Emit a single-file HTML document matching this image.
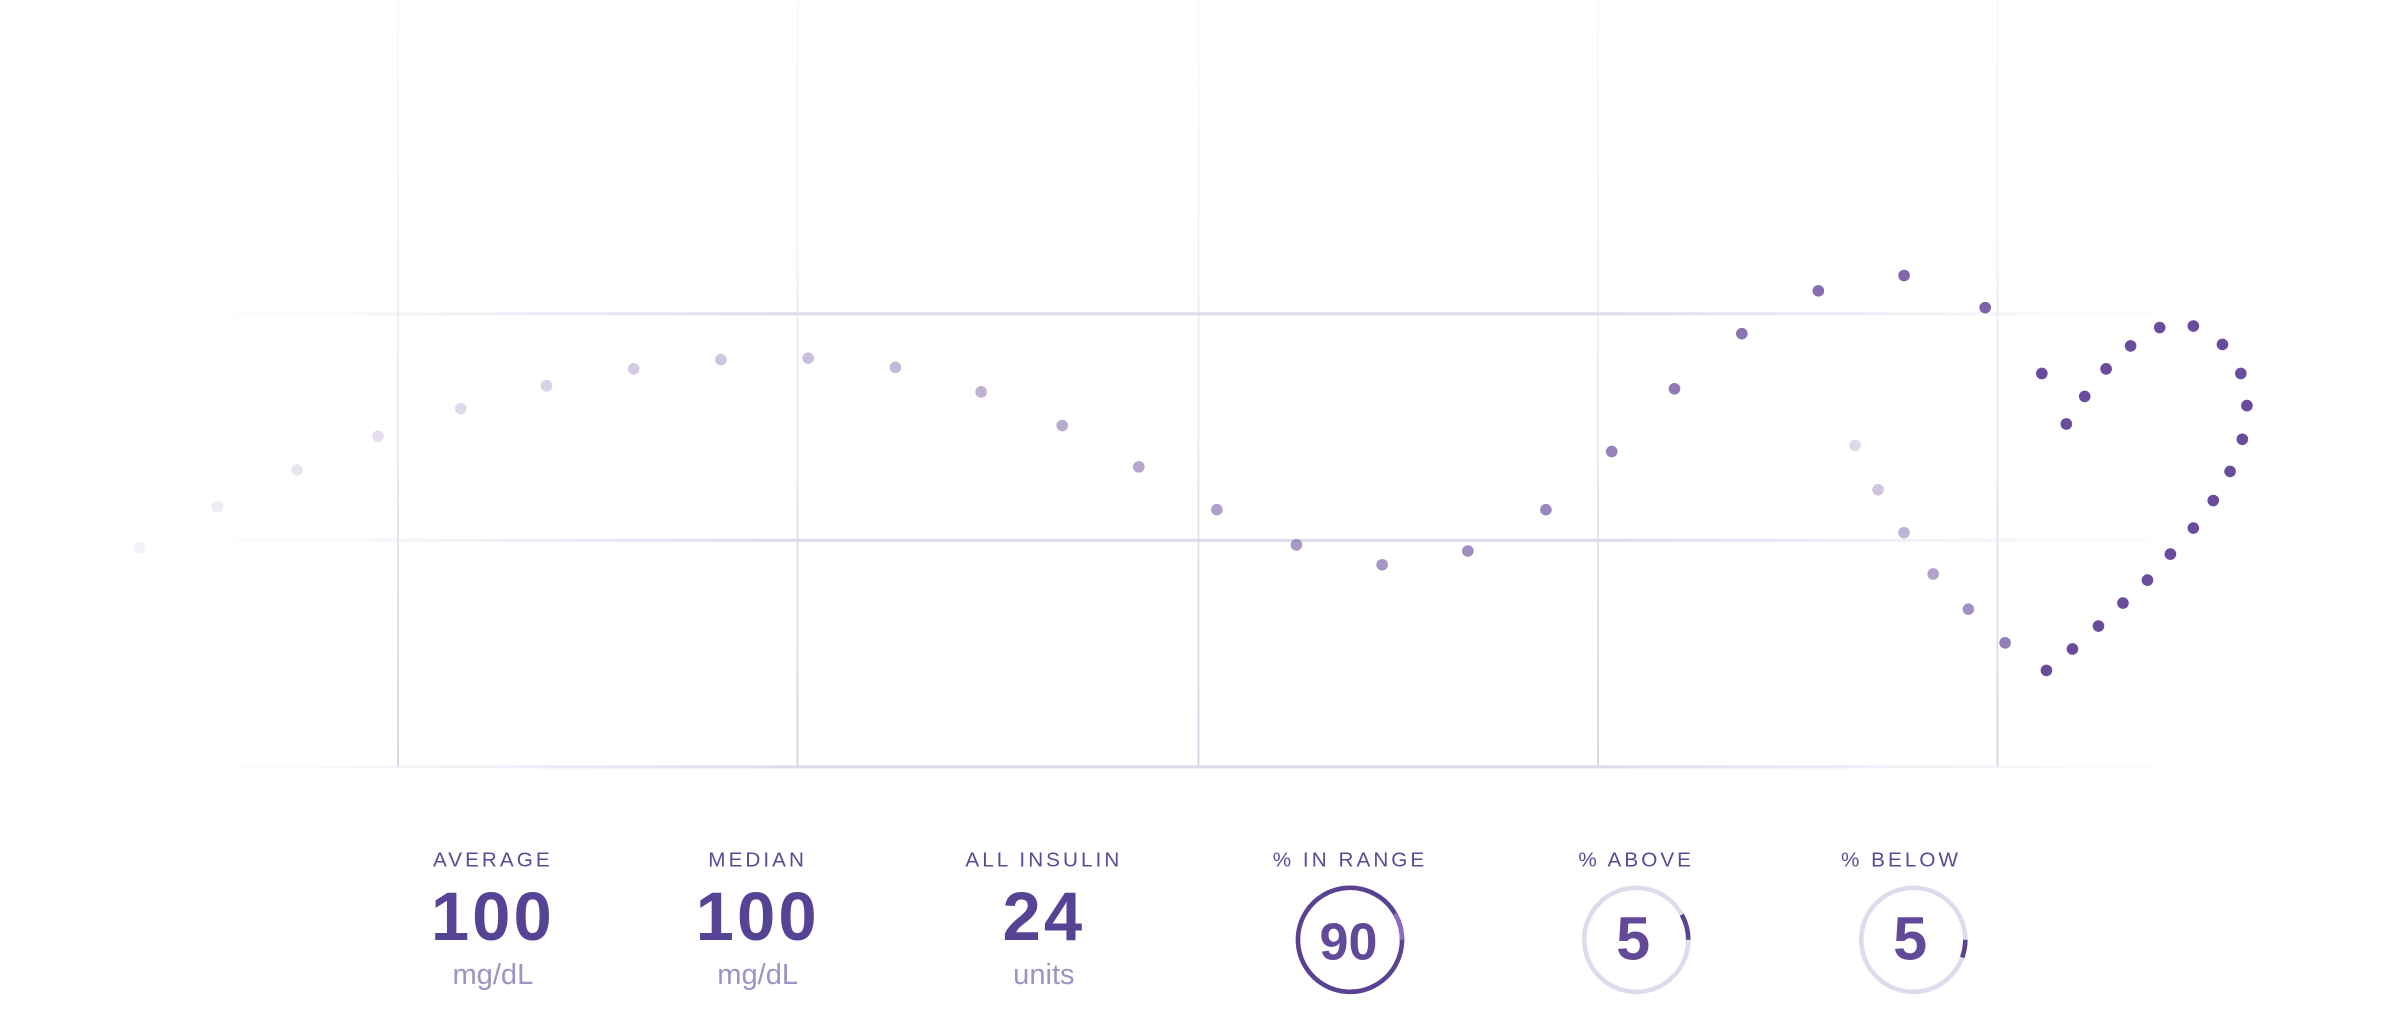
<!DOCTYPE html>
<html><head><meta charset="utf-8"><style>
html,body{margin:0;padding:0;background:#fff;}
svg{display:block;}
text{font-family:"Liberation Sans",sans-serif;}
</style></head><body>
<svg id="chart" width="2400" height="1020" viewBox="0 0 1568 666.4" xmlns="http://www.w3.org/2000/svg">
<defs>
<linearGradient id="vfade" x1="0" y1="0" x2="0" y2="1">
<stop offset="0" stop-color="#e4e1ee" stop-opacity="0.2"/><stop offset="1" stop-color="#d6d2e6" stop-opacity="1"/></linearGradient>
<linearGradient id="hfade" x1="0" y1="0" x2="1" y2="0">
<stop offset="0" stop-color="#e6e3f0" stop-opacity="0"/><stop offset="0.3" stop-color="#dedbec" stop-opacity="1"/><stop offset="0.7" stop-color="#dedbec" stop-opacity="1"/><stop offset="1" stop-color="#e6e3f0" stop-opacity="0"/></linearGradient>
</defs>
<g id="grid"></g>
<g id="dots"></g>
<g id="stats">
<g>
<text x="322" y="566" text-anchor="middle" font-size="13.5" letter-spacing="2" fill="#5a4a94">AVERAGE</text>
<text x="322" y="614" text-anchor="middle" font-size="45" font-weight="bold" letter-spacing="2" fill="#574393">100</text>
<text x="322" y="643" text-anchor="middle" font-size="19" fill="#9c94c2">mg/dL</text></g>
<g>
<text x="495" y="566" text-anchor="middle" font-size="13.5" letter-spacing="2" fill="#5a4a94">MEDIAN</text>
<text x="495" y="614" text-anchor="middle" font-size="45" font-weight="bold" letter-spacing="2" fill="#574393">100</text>
<text x="495" y="643" text-anchor="middle" font-size="19" fill="#9c94c2">mg/dL</text></g>
<g>
<text x="682" y="566" text-anchor="middle" font-size="13.5" letter-spacing="2" fill="#5a4a94">ALL INSULIN</text>
<text x="682" y="614" text-anchor="middle" font-size="45" font-weight="bold" letter-spacing="2" fill="#574393">24</text>
<text x="682" y="643" text-anchor="middle" font-size="19" fill="#9c94c2">units</text></g>
<text x="882" y="566" text-anchor="middle" font-size="13.5" letter-spacing="2" fill="#5a4a94">% IN RANGE</text>
<text x="1069" y="566" text-anchor="middle" font-size="13.5" letter-spacing="2" fill="#5a4a94">% ABOVE</text>
<text x="1242" y="566" text-anchor="middle" font-size="13.5" letter-spacing="2" fill="#5a4a94">% BELOW</text>
</g>
<g id="rings"></g>
</svg>
<script>
const vGridX = [260, 521, 783, 1044, 1305];
const hGridY = [205, 353, 501];
const mainX = [91,142,194,247,301,357,414,471,528,585,641,694,744,795,847,903,959,1010,1053,1094,1138,1188,1244,1297];
const mainY = [358,331,307,285,267,252,241,235,234,240,256,278,305,333,356,369,360,333,295,254,218,190,180,201];
const fallX = [1212,1227,1244,1263,1286,1310];
const fallY = [291,320,348,375,398,420];
const heartX = [1337,1354,1371,1387,1403,1418,1433,1446,1457,1465,1468,1464,1452,1433,1411,1392,1376,1362,1350,1334];
const heartY = [438,424,409,394,379,362,345,327,308,287,265,244,225,213,214,226,241,259,277,244];
const ringLabels = ["90","5","5"];
const ringValues = [90,5,5];
const ringCenters = [882,1069,1250];
const NS="http://www.w3.org/2000/svg";
const grid=document.getElementById('grid');
vGridX.forEach(x=>{const l=document.createElementNS(NS,'rect');


l.setAttribute('x',x-0.6);l.setAttribute('y',0);l.setAttribute('width',1.2);l.setAttribute('height',501);l.setAttribute('fill','url(#vfade)');grid.appendChild(l);});
hGridY.forEach(y=>{const l=document.createElementNS(NS,'rect');


l.setAttribute('x',120);l.setAttribute('y',y-1);l.setAttribute('width',1320);l.setAttribute('height',2);l.setAttribute('fill','url(#hfade)');grid.appendChild(l);});
const dots=document.getElementById('dots');
function dot(x,y,op,name){const c=document.createElementNS(NS,'circle');


c.setAttribute('cx',x);c.setAttribute('cy',y);c.setAttribute('r',3.8);c.setAttribute('fill','#6a4c9c');c.setAttribute('fill-opacity',op);dots.appendChild(c);}
mainX.forEach((x,i)=>dot(x,mainY[i],0.08+0.8*i/(mainX.length-1),'glucose-point'));
fallX.forEach((x,i)=>dot(x,fallY[i],0.22+0.5*i/(fallX.length-1),'falling-point'));
heartX.forEach((x,i)=>dot(x,heartY[i],1,'heart-point'));
const rings=document.getElementById('rings');
const R=34,CY=614;
function arc(cx,a0,a1,color,name){const p=document.createElementNS(NS,'path');
const r0=(a0-90)*Math.PI/180,r1=(a1-90)*Math.PI/180;
const large=(a1-a0)>180?1:0;
p.setAttribute('d',`M${cx+R*Math.cos(r0)} ${CY+R*Math.sin(r0)} A${R} ${R} 0 ${large} 1 ${cx+R*Math.cos(r1)} ${CY+R*Math.sin(r1)}`);


p.setAttribute('fill','none');p.setAttribute('stroke',color);p.setAttribute('stroke-width',3);rings.appendChild(p);}
ringCenters.forEach((cx,i)=>{
const bg=document.createElementNS(NS,'circle');


bg.setAttribute('cx',cx);bg.setAttribute('cy',CY);bg.setAttribute('r',R);bg.setAttribute('fill','none');bg.setAttribute('stroke','#dedbec');bg.setAttribute('stroke-width',3);rings.appendChild(bg);
const t=document.createElementNS(NS,'text');


t.setAttribute('x',cx-(i==0?1:2));t.setAttribute('y',CY+13);t.setAttribute('text-anchor','middle');t.setAttribute('font-size',i==0?34:40);t.setAttribute('font-weight','bold');t.setAttribute('fill','#634a99');t.textContent=ringLabels[i];rings.appendChild(t);});
arc(ringCenters[0],90,90+ringValues[0]*3.6-0.01>360?449.99:90+ringValues[0]*3.6,'#5a4293','in-range-arc');
arc(ringCenters[0],60,90,'#8a6cc0','in-range-accent');
arc(ringCenters[1],90-ringValues[1]*3.6*1.6,90,'#5a4293','above-arc');
arc(ringCenters[2],90,90+ringValues[2]*3.6*1.1,'#5a4293','below-arc');
</script>
</body></html>
